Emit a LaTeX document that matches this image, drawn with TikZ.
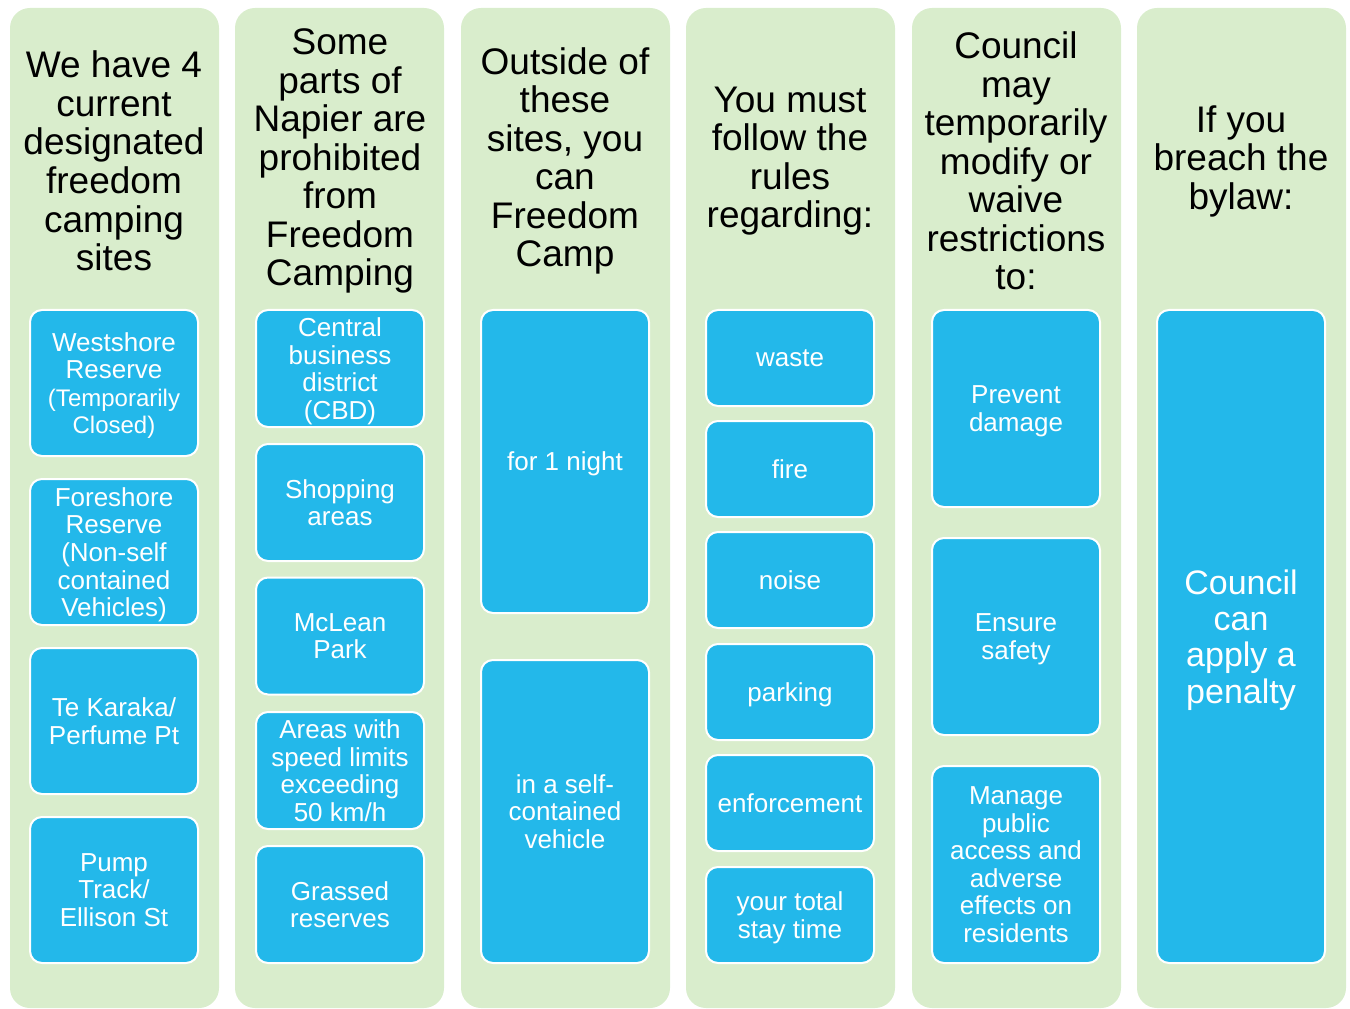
\documentclass[tikz,border=0pt]{standalone}
\usepackage{fontspec}
\setmainfont{Liberation Sans}
\definecolor{colgreen}{RGB}{217,237,204}
\definecolor{boxblue}{RGB}{35,184,234}
\begin{document}
\begin{tikzpicture}[x=0.75pt,y=-0.75pt,
  colbg/.style={fill=colgreen, draw=none, rounded corners=15pt},
  hdr/.style={font=\fontsize{27.75}{28.9}\selectfont, align=center, text=black, inner sep=0pt},
  bbox/.style={fill=boxblue, draw=white, line width=1.5pt, rounded corners=9pt, text=white,
    align=center, font=\fontsize{19.5}{20.7}\selectfont, inner sep=0pt, minimum width=126pt,
    text depth=0pt},
  b1/.style={bbox, minimum height=109.5pt},
  b2/.style={bbox, minimum height=87.75pt},
  b3/.style={bbox, minimum height=227.25pt},
  b4/.style={bbox, minimum height=72pt},
  b5/.style={bbox, minimum height=147.75pt},
  b6/.style={bbox, minimum height=489.75pt, font=\fontsize{25.5}{27.2}\selectfont},
]
\useasboundingbox (0,0) rectangle (1350,1009);
% columns
\fill[colbg] (10,8) rectangle (219,1008);
\fill[colbg] (235,8) rectangle (444,1008);
\fill[colbg] (461,8) rectangle (670,1008);
\fill[colbg] (686,8) rectangle (895,1008);
\fill[colbg] (912,8) rectangle (1121,1008);
\fill[colbg] (1137,8) rectangle (1346,1008);
% headers
\node[hdr] (h1) at (114,161) {We have 4\\current\\designated\\freedom\\camping\\sites};
\node[hdr] (h2) at (340,161) {Some\\parts of\\Napier are\\prohibited\\from\\Freedom\\Camping};
\node[hdr] (h3) at (565,161) {Outside of\\these\\sites, you\\can\\Freedom\\Camp};
\node[hdr] (h4) at (790,161) {You must\\follow the\\rules\\regarding:};
\node[hdr] (h5) at (1016,161) {Council\\may\\temporarily\\modify or\\waive\\restrictions\\to:};
\node[hdr] (h6) at (1241,161) {If you\\breach the\\bylaw:};
% column 1
\node[b1] (c1a) at (114,383) {Westshore\\Reserve\\{\fontsize{18}{19.5}\selectfont(Temporarily}\\{\fontsize{18}{19.5}\selectfont Closed)}};
\node[b1] (c1b) at (114,552) {Foreshore\\Reserve\\(Non-self\\contained\\Vehicles)};
\node[b1] (c1c) at (114,721) {Te Karaka/\\Perfume Pt};
\node[b1] (c1d) at (114,890) {Pump\\Track/\\Ellison St};
% column 2
\node[b2] (c2a) at (340,368.5) {Central\\business\\district\\(CBD)};
\node[b2] (c2b) at (340,502.5) {Shopping\\areas};
\node[b2] (c2c) at (340,636) {McLean\\Park};
\node[b2] (c2d) at (340,770.5) {Areas with\\speed limits\\exceeding\\50 km/h};
\node[b2] (c2e) at (340,904.5) {Grassed\\reserves};
% column 3
\node[b3] (c3a) at (565,461.5) {for 1 night};
\node[b3] (c3b) at (565,811.5) {in a self-\\contained\\vehicle};
% column 4
\node[b4] (c4a) at (790,358) {waste};
\node[b4] (c4b) at (790,469) {fire};
\node[b4] (c4c) at (790,580) {noise};
\node[b4] (c4d) at (790,692) {parking};
\node[b4] (c4e) at (790,803) {enforcement};
\node[b4] (c4f) at (790,915) {your total\\stay time};
% column 5
\node[b5] (c5a) at (1016,408.5) {Prevent\\damage};
\node[b5] (c5b) at (1016,636.5) {Ensure\\safety};
\node[b5] (c5c) at (1016,864.5) {Manage\\public\\access and\\adverse\\effects on\\residents};
% column 6
\node[b6] (c6a) at (1241,636.5) {Council\\can\\apply a\\penalty};
\end{tikzpicture}
\end{document}
